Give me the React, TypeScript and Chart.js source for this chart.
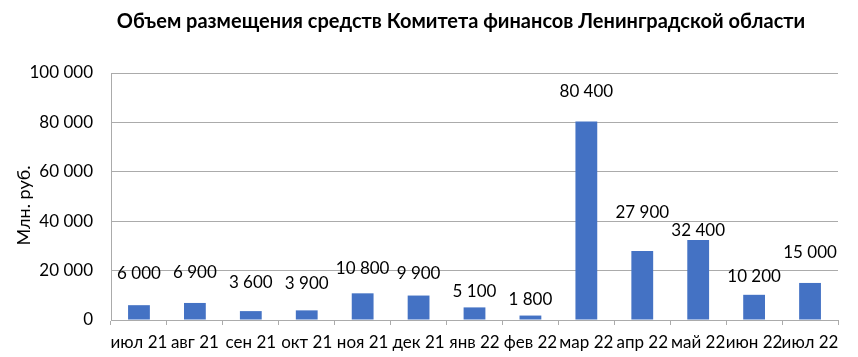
import React, { useEffect, useRef } from "react";
import { Chart, registerables } from "chart.js";

Chart.register(...registerables);

const TITLE = "Объем размещения средств Комитета финансов Ленинградской области";
const Y_TITLE = "Млн. руб.";
const CATEGORIES = [
  "июл 21", "авг 21", "сен 21", "окт 21", "ноя 21", "дек 21", "янв 22",
  "фев 22", "мар 22", "апр 22", "май 22", "июн 22", "июл 22",
];
const VALUES = [6000, 6900, 3600, 3900, 10800, 9900, 5100, 1800, 80400, 27900, 32400, 10200, 15000];
const Y_MIN = 0;
const Y_MAX = 100000;
const Y_STEP = 20000;
// distance (px) from bar top to data label centre, as placed in the original
const LABEL_LIFT = [32, 30, 29, 27, 25, 22, 16, 16, 30, 39, 9, 18, 30];

const FONT = "Lato, 'Open Sans', sans-serif";
const BAR_COLOR = "#4472C4";
const GRID_COLOR = "#ababab";

const fmt = (v: number) => String(Math.round(v)).replace(/\B(?=(\d{3})+(?!\d))/g, " ");

const labelsPlugin = {
  id: "customLabels",
  afterDatasetsDraw(chart: any) {
    const ctx = chart.ctx;
    const meta = chart.getDatasetMeta(0);
    ctx.save();
    ctx.font = `17px ${FONT}`;
    ctx.fillStyle = "#000";
    ctx.textAlign = "center";
    ctx.textBaseline = "middle";
    meta.data.forEach((el: any, i: number) => {
      ctx.fillText(fmt(VALUES[i]), el.x, el.y - LABEL_LIFT[i]);
    });
    ctx.restore();
  },
  afterDraw(chart: any) {
    const ctx = chart.ctx;
    const area = chart.chartArea;
    ctx.save();
    ctx.font = `bold 20px ${FONT}`;
    ctx.fillStyle = "#000";
    ctx.textAlign = "center";
    ctx.textBaseline = "middle";
    ctx.fillText(TITLE, 461, 22);
    // y-axis title
    ctx.font = `18px ${FONT}`;
    ctx.translate(24, (area.top + area.bottom) / 2 + 9);
    ctx.rotate(-Math.PI / 2);
    ctx.fillText(Y_TITLE, 0, 0);
    ctx.restore();
  },
};

export default function App() {
  const ref = useRef<HTMLCanvasElement | null>(null);
  useEffect(() => {
    if (!ref.current) return;
    const chart = new Chart(ref.current, {
      type: "bar",
      data: {
        labels: CATEGORIES,
        datasets: [
          {
            data: VALUES,
            backgroundColor: BAR_COLOR,
            borderWidth: 0,
            barPercentage: 0.39,
            categoryPercentage: 1,
          },
        ],
      },
      plugins: [labelsPlugin],
      options: {
        animation: false,
        responsive: false,
        devicePixelRatio: 1,
        layout: { padding: { top: 73, right: 20, left: 0, bottom: 0 } },
        plugins: {
          legend: { display: false },
          title: { display: false },
          tooltip: { enabled: false },
        },
        scales: {
          x: {
            afterFit: (s: any) => {
              s.height = 37;
            },
            grid: {
              drawOnChartArea: false,
              drawTicks: true,
              tickLength: 5,
              color: GRID_COLOR,
              offset: true,
            },
            border: { display: true, color: GRID_COLOR },
            ticks: {
              color: "#000",
              font: { family: FONT, size: 17 },
              padding: 7,
              maxRotation: 0,
              minRotation: 0,
              autoSkip: false,
            },
          },
          y: {
            min: Y_MIN,
            max: Y_MAX,
            afterFit: (s: any) => {
              s.width = 111;
            },
            grid: { color: GRID_COLOR, drawTicks: false },
            border: { display: true, color: GRID_COLOR },
            ticks: {
              stepSize: Y_STEP,
              color: "#000",
              font: { family: FONT, size: 17 },
              padding: 18,
              callback: (v: any) => fmt(Number(v)),
            },
          },
        },
      },
    });
    return () => chart.destroy();
  }, []);
  return (
    <div style={{ position: "fixed", left: 0, top: 0, width: 858, height: 357, background: "#fff" }}>
      <canvas ref={ref} width={858} height={357} />
    </div>
  );
}
